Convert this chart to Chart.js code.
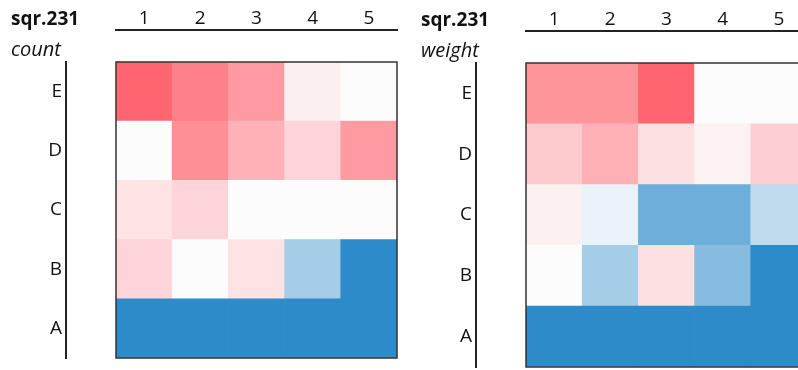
<!DOCTYPE html>
<html>
<head>
<meta charset="utf-8">
<script src="https://cdn.jsdelivr.net/npm/chart.js@4.4.0/dist/chart.umd.min.js"></script>
<style>
  html, body { margin: 0; padding: 0; background: #fff; }
  #wrap { position: relative; width: 798px; height: 370px; overflow: hidden; }
  .panel { position: absolute; top: 0; width: 410px; }
</style>
</head>
<body>
<div id="wrap">
  <div class="panel" style="left:0;height:360px"><canvas id="countChart"></canvas></div>
  <div class="panel" style="left:410px;height:370px"><canvas id="weightChart"></canvas></div>
</div>
<script>
const rowLabels = ['A', 'B', 'C', 'D', 'E'];
const colLabels = ['1', '2', '3', '4', '5'];

// cell values: -1 = full blue, 0 = white, 1 = full red
const countA = [-1, -1, -1, -1, -1];
const countB = [0.26, 0, 0.17, -0.42, -1];
const countC = [0.17, 0.26, 0, 0, 0];
const countD = [0, 0.73, 0.5, 0.26, 0.65];
const countE = [1, 0.82, 0.65, 0.09, 0];

const weightA = [-1, -1, -1, -1, -1];
const weightB = [0, -0.42, 0.19, -0.57, -1];
const weightC = [0.08, -0.09, -0.69, -0.69, -0.29];
const weightD = [0.33, 0.51, 0.19, 0.07, 0.3];
const weightE = [0.69, 0.69, 1, 0, 0];

const FONT = '"Open Sans", Lato, sans-serif';
const white = [252, 252, 252], red = [255, 102, 112], blue = [46, 139, 202];

function cellColor(v) {
    const t = Math.min(1, Math.abs(v));
    const end = v >= 0 ? red : blue;
    const c = white.map((w, i) => Math.round(w + (end[i] - w) * t));
    return 'rgb(' + c.join(',') + ')';
}

// box round the cells + corner texts
const frame = {
    id: 'frame',
    afterDatasetsDraw(chart, args, opts) {
        const { ctx, chartArea: a } = chart;
        ctx.save();
        ctx.strokeStyle = '#333';
        ctx.lineWidth = 1.5;
        ctx.strokeRect(a.left, a.top, a.right - a.left, a.bottom - a.top);
        ctx.fillStyle = '#111';
        ctx.textAlign = 'left';
        ctx.textBaseline = 'alphabetic';
        ctx.font = 'bold 19px ' + FONT;
        ctx.fillText(opts.title, 11, chart.scales.xLab.bottom - 5);
        ctx.font = 'italic 20px ' + FONT;
        ctx.fillText(opts.measure, 11, chart.scales.x.bottom - 6);
        ctx.restore();
    }
};

function makeChart(id, measure, grid, labH, bottomPad) {
    const ctx = document.getElementById(id).getContext('2d');
    return new Chart(ctx, {
        type: 'bar',
        data: {
            labels: colLabels,
            datasets: grid.map((vals, r) => ({
                label: rowLabels[r],
                data: vals.map(() => 1),
                backgroundColor: vals.map(cellColor),
                borderWidth: 0,
                barPercentage: 1,
                categoryPercentage: 1
            }))
        },
        options: {
            responsive: true,
            maintainAspectRatio: false,
            animation: false,
            layout: { padding: { left: 0, top: 0, right: 13, bottom: bottomPad } },
            plugins: {
                legend: { display: false },
                tooltip: { enabled: false },
                frame: { title: 'sqr.231', measure: measure }
            },
            scales: {
                x: {
                    position: 'top', stacked: true, offset: true, weight: 0,
                    ticks: { display: false },
                    grid: { drawOnChartArea: false, drawTicks: false },
                    border: { display: false },
                    afterFit: s => { s.height = 32; }
                },
                xLab: {
                    type: 'category', position: 'top', offset: true, weight: 1,
                    ticks: { color: '#111', padding: 0, font: { family: FONT, size: 19 } },
                    grid: { drawOnChartArea: false, drawTicks: false },
                    border: { display: true, color: '#222', width: 2 },
                    afterFit: s => { s.height = labH; }
                },
                y: {
                    stacked: true, min: 0, max: 5, weight: 0,
                    ticks: { display: false },
                    grid: { drawOnChartArea: false, drawTicks: false },
                    border: { display: false },
                    afterFit: s => { s.width = 50; }
                },
                yLab: {
                    type: 'linear', position: 'left', min: 0, max: 5, weight: 1,
                    afterBuildTicks: s => { s.ticks = rowLabels.map((l, i) => ({ value: i + 0.5 })); },
                    ticks: {
                        color: '#111', padding: 4, font: { family: FONT, size: 19 },
                        callback: (v, i) => rowLabels[i]
                    },
                    grid: { drawOnChartArea: false, drawTicks: false },
                    border: { display: true, color: '#222', width: 2 },
                    afterFit: s => { s.width = 66; s.paddingTop = 0; s.paddingBottom = 0; }
                }
            }
        },
        plugins: [frame]
    });
}

makeChart('countChart', 'count', [countA, countB, countC, countD, countE], 30, 2);
makeChart('weightChart', 'weight', [weightA, weightB, weightC, weightD, weightE], 31, 3);
</script>
</body>
</html>
